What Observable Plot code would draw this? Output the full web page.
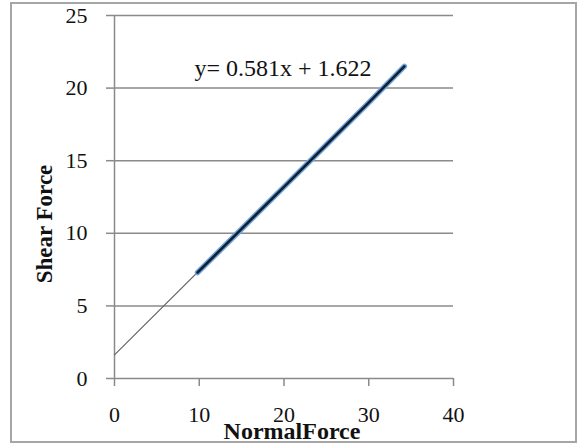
<!DOCTYPE html>
<html>
<head>
<meta charset="utf-8">
<script src="https://cdn.jsdelivr.net/npm/d3@7"></script>
<script src="https://cdn.jsdelivr.net/npm/@observablehq/plot@0.6"></script>
<style>
  html, body { margin: 0; padding: 0; background: #fff; }
</style>
</head>
<body>
<div id="chart"></div>
<script>
// Data
const normalForce = [9.8, 15, 20, 25, 30, 34.2];
const shearForce  = [7.3, 10.3, 13.2, 16.1, 19.0, 21.5];
const trendX = [0, 34.2];
const trendY = [1.622, 21.49];
const xTicks = [0, 10, 20, 30, 40];
const yTicks = [0, 5, 10, 15, 20, 25];
const equation = "y= 0.581x + 1.622";
const xTitle = "NormalForce";
const yTitle = "Shear Force";

const points = normalForce.map((x, i) => ({x, y: shearForce[i]}));
const trend = trendX.map((x, i) => ({x, y: trendY[i]}));

const grid = "#8a8a8a";

const plot = Plot.plot({
  width: 581,
  height: 446,
  marginLeft: 114,
  marginRight: 128,
  marginTop: 15,
  marginBottom: 68,
  style: {fontFamily: "'Liberation Serif', 'Times New Roman', serif", fontSize: "22px", color: "#111", background: "#fff"},
  x: {domain: [0, 40], ticks: xTicks},
  y: {domain: [0, 25], ticks: yTicks},
  marks: [
    Plot.ruleY(yTicks, {x1: 0, x2: 40, stroke: grid, strokeWidth: 1.5}),
    Plot.ruleX([0], {y1: 0, y2: 25, stroke: grid, strokeWidth: 1.5}),
    Plot.axisY({ticks: yTicks, tickSize: 8, tickPadding: 19, stroke: grid, strokeWidth: 1.5, label: null, fontSize: 22}),
    Plot.axisX({ticks: xTicks, tickSize: 8, tickPadding: 20, stroke: grid, strokeWidth: 1.5, label: null, fontSize: 22}),
    Plot.line(trend, {x: "x", y: "y", stroke: "#666", strokeWidth: 1.2}),
    Plot.line(points, {x: "x", y: "y", stroke: "#6fa3dc", strokeWidth: 5.5, strokeLinecap: "round"}),
    Plot.line(points, {x: "x", y: "y", stroke: "#0f2035", strokeWidth: 2.6, strokeLinecap: "round"}),
    Plot.text([equation], {frameAnchor: "top-left", dx: 80, dy: 53, textAnchor: "start", lineAnchor: "middle", fontSize: 24, fill: "#111"}),
    Plot.text([yTitle], {frameAnchor: "left", dx: -70, dy: 27, rotate: -90, textAnchor: "middle", lineAnchor: "middle", fontSize: 23, fontWeight: "bold", fill: "#111"}),
    Plot.text([xTitle], {frameAnchor: "bottom", dx: 8, dy: 53, textAnchor: "middle", lineAnchor: "middle", fontSize: 24, fontWeight: "bold", fill: "#111"})
  ]
});

d3.select(plot).append("rect")
  .attr("x", 11).attr("y", 3)
  .attr("width", 565).attr("height", 439)
  .attr("fill", "none")
  .attr("stroke", "#a6a6a6")
  .attr("stroke-width", 2);

document.getElementById("chart").appendChild(plot);
</script>
</body>
</html>
